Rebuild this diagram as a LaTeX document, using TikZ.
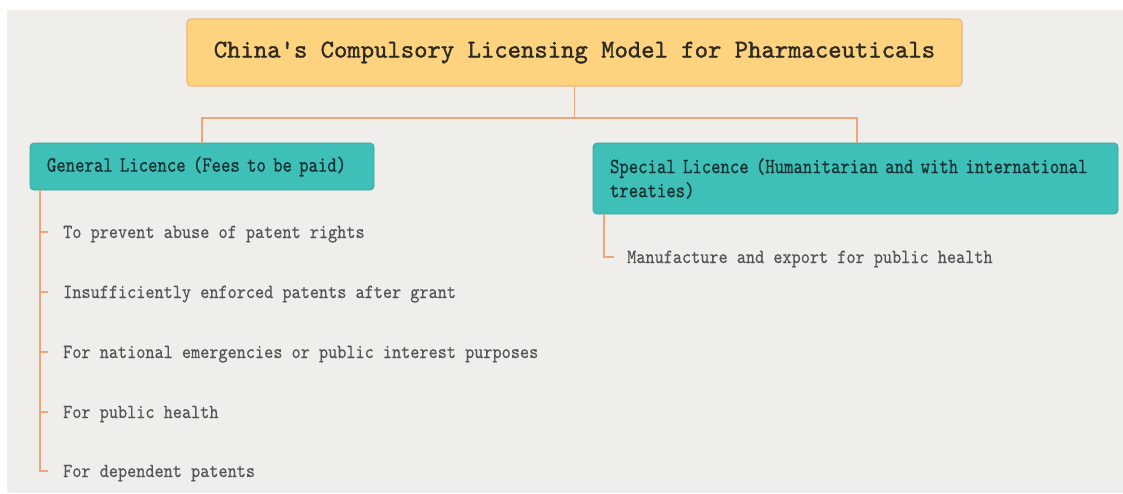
\documentclass[tikz,border=0pt]{standalone}
\usepackage{fontspec}
\newfontfamily\titlefont[Extension=.otf, FakeStretch=0.99, FakeBold=1.3]{lmmono10-regular}
\newfontfamily\branchfont[Extension=.otf, FakeStretch=0.82, FakeBold=0.6]{lmmono10-regular}
\newfontfamily\itemfont[Extension=.otf, FakeStretch=0.87, FakeBold=0.4]{lmmono10-regular}
\definecolor{canvas}{HTML}{EFEEEA}
\definecolor{titlefill}{HTML}{FDD380}
\definecolor{titleedge}{HTML}{F2B57C}
\definecolor{tealfill}{HTML}{3EBFB8}
\definecolor{tealedge}{HTML}{33A89F}
\definecolor{wire}{HTML}{EBA67C}
\definecolor{darktext}{HTML}{2E2A22}
\definecolor{tealtext}{HTML}{163232}
\definecolor{itemtext}{HTML}{555555}
\tikzset{
  rootbox/.style={draw=titleedge, fill=titlefill, line width=1.2pt, rounded corners=4pt,
    minimum width=775pt, minimum height=67pt, inner sep=0pt,
    font=\titlefont\fontsize{25.7}{30}\selectfont, text=darktext},
  branchbox/.style={draw=tealedge, fill=tealfill, line width=0.8pt, rounded corners=4pt,
    inner xsep=17pt, inner ysep=0pt, align=left,
    font=\branchfont\fontsize{21.8}{24}\selectfont, text=tealtext},
  leaf/.style={inner sep=0pt, text height=12pt, text depth=0pt, anchor=west,
    font=\itemfont\fontsize{20}{22}\selectfont, text=itemtext},
  wireline/.style={draw=wire, line width=1.8pt},
}
\begin{document}
\begin{tikzpicture}[x=1pt,y=-1pt]
\useasboundingbox (0,0) rectangle (1123,493);
\fill[canvas] (7,10) rectangle (1123,493);

% root and the two licence types
\node[rootbox] (root) at (574.5,52.5) {China's Compulsory Licensing Model for Pharmaceuticals};
\node[branchbox, text width=310pt, minimum height=47pt] (gen) at (202,166.5)
  {General Licence (Fees to be paid)};
\node[branchbox, text width=491pt, minimum height=71pt] (spec) at (855.5,178.5)
  {Special Licence (Humanitarian and with international\\treaties)};

% grounds for a general licence
\node[leaf] (g1) at (63,232) {To prevent abuse of patent rights};
\node[leaf] (g2) at (63,292) {Insufficiently enforced patents after grant};
\node[leaf] (g3) at (63,352) {For national emergencies or public interest purposes};
\node[leaf] (g4) at (63,412) {For public health};
\node[leaf] (g5) at (63,471) {For dependent patents};

% ground for a special licence
\node[leaf] (s1) at (627,257) {Manufacture and export for public health};

% tree connectors
\draw[wireline] (root.south) -- ++(0,31) -| (gen.north);
\draw[wireline] (root.south) -- ++(0,31) -| ([xshift=1.5pt]spec.north);

\coordinate (gtrunk) at ([xshift=10pt]gen.south west);
\draw[wireline] (gtrunk) |- ([xshift=-15pt]g5.west);
\foreach \k in {g1,g2,g3,g4}
  \draw[wireline] ([xshift=-23pt]\k.west) -- ([xshift=-15pt]\k.west);

\coordinate (strunk) at ([xshift=11pt]spec.south west);
\draw[wireline] (strunk) |- ([xshift=-13pt]s1.west);
\end{tikzpicture}
\end{document}
